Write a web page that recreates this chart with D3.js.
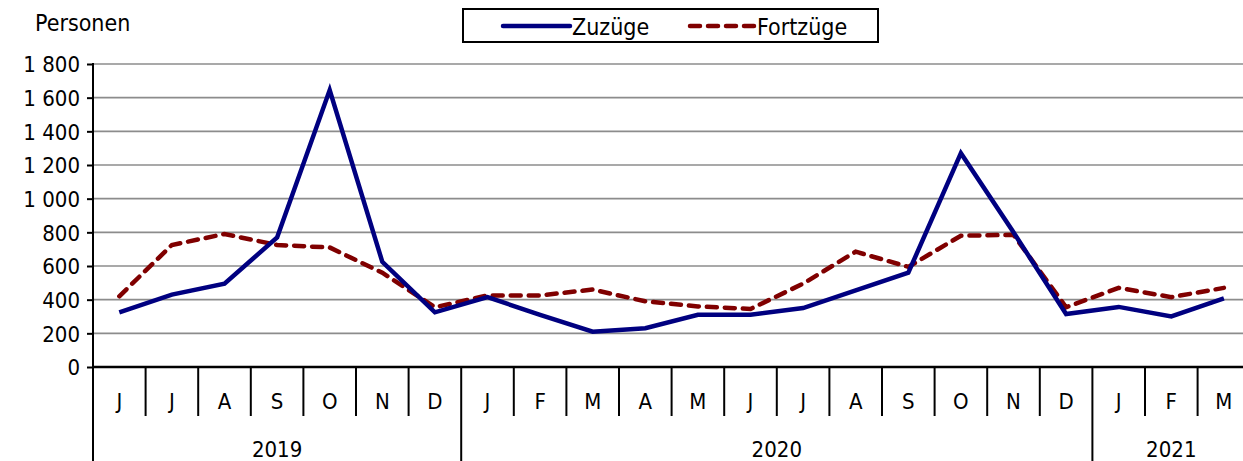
<!DOCTYPE html>
<html>
<head>
<meta charset="utf-8">
<script src="https://cdn.jsdelivr.net/npm/d3@7"></script>
<style>
  html, body { margin: 0; padding: 0; background: #fff; }
  svg { display: block; font-family: "DejaVu Sans Condensed", "Noto Sans", sans-serif; }
</style>
</head>
<body>
<div id="chart"></div>
<script>
// Monatswerte Juni 2019 bis März 2021
const months = ['J','J','A','S','O','N','D','J','F','M','A','M','J','J','A','S','O','N','D','J','F','M'];
const years = ['2019', '2020', '2021'];
const monthsPerYear = [7, 12, 3];
const zuzuege = [325, 430, 495, 770, 1645, 625, 325, 415, 310, 210, 230, 310, 310, 350, 455, 560, 1270, 800, 315, 357, 300, 407];
const fortzuege = [420, 725, 790, 725, 710, 560, 355, 425, 425, 460, 390, 360, 345, 495, 685, 595, 780, 785, 355, 470, 415, 470];
const yTicks = [0, 200, 400, 600, 800, 1000, 1200, 1400, 1600, 1800];

const W = 1243, H = 461;
const plotLeft = 93, step = 52.6, plotTop = 64, zero = 367;

const svg = d3.select('#chart').append('svg').attr('width', W).attr('height', H);

const x = d3.scaleBand().domain(d3.range(months.length)).range([plotLeft, plotLeft + step * months.length]).padding(0);
const y = d3.scaleLinear().domain([0, 1800]).range([zero, plotTop]);
const fmt = d3.formatLocale({ decimal: ',', thousands: ' ', grouping: [3], currency: ['', ''] }).format(',');

// gridlines
svg.append('g').selectAll('line').data(yTicks.filter(d => d > 0)).join('line')
  .attr('x1', plotLeft).attr('x2', W)
  .attr('y1', d => y(d)).attr('y2', d => y(d))
  .attr('stroke', '#8c8c8c').attr('stroke-width', 1.6);

// y axis
const yAxis = svg.append('g').attr('transform', `translate(${plotLeft},0)`)
  .call(d3.axisLeft(y).tickValues(yTicks).tickSize(6).tickPadding(7).tickFormat(fmt));
yAxis.select('.domain').remove();
yAxis.selectAll('.tick line').attr('stroke', '#000').attr('stroke-width', 2);
yAxis.selectAll('.tick text').attr('font-size', 22).attr('fill', '#000').attr('dy', '0.36em');
yAxis.attr('font-family', null).attr('font-size', null);
svg.append('line').attr('x1', plotLeft).attr('x2', plotLeft).attr('y1', plotTop - 1).attr('y2', H)
  .attr('stroke', '#000').attr('stroke-width', 2);

// x axis baseline
svg.append('line').attr('x1', plotLeft).attr('x2', W).attr('y1', zero).attr('y2', zero)
  .attr('stroke', '#000').attr('stroke-width', 2.5);

// month separators
const starts = d3.cumsum([0, ...monthsPerYear]);
svg.append('g').selectAll('line').data(d3.range(1, months.length + 1)).join('line')
  .attr('x1', i => x(0) + i * x.bandwidth()).attr('x2', i => x(0) + i * x.bandwidth())
  .attr('y1', zero).attr('y2', i => starts.includes(i) ? H : 416)
  .attr('stroke', '#000').attr('stroke-width', 2);

// month labels
svg.append('g').selectAll('text').data(months).join('text')
  .attr('x', (d, i) => x(i) + x.bandwidth() / 2).attr('y', 409)
  .attr('text-anchor', 'middle').attr('font-size', 22).text(d => d);

// year labels
svg.append('g').selectAll('text').data(years).join('text')
  .attr('x', (d, i) => x(starts[i]) + (monthsPerYear[i] * x.bandwidth()) / 2).attr('y', 457)
  .attr('text-anchor', 'middle').attr('font-size', 22).text(d => d);

// lines
const line = d3.line().x((d, i) => x(i) + x.bandwidth() / 2).y(d => y(d));
svg.append('path').datum(fortzuege).attr('d', line).attr('fill', 'none')
  .attr('stroke', '#800000').attr('stroke-width', 4.5).attr('stroke-dasharray', '10,8').attr('stroke-linecap', 'round');
svg.append('path').datum(zuzuege).attr('d', line).attr('fill', 'none')
  .attr('stroke', '#000080').attr('stroke-width', 4.5);

// y label
svg.append('text').attr('x', 35).attr('y', 31).attr('font-size', 23).text('Personen');

// legend
const lg = svg.append('g');
lg.append('rect').attr('x', 463).attr('y', 9).attr('width', 415).attr('height', 33)
  .attr('fill', '#fff').attr('stroke', '#000').attr('stroke-width', 2);
lg.append('line').attr('x1', 503).attr('x2', 570).attr('y1', 26).attr('y2', 26)
  .attr('stroke', '#000080').attr('stroke-width', 4.5).attr('stroke-linecap', 'round');
lg.append('text').attr('x', 572).attr('y', 35).attr('font-size', 23).text('Zuzüge');
lg.append('line').attr('x1', 690).attr('x2', 755).attr('y1', 26).attr('y2', 26)
  .attr('stroke', '#800000').attr('stroke-width', 4.5).attr('stroke-dasharray', '10,8').attr('stroke-linecap', 'round');
lg.append('text').attr('x', 757).attr('y', 35).attr('font-size', 23).text('Fortzüge');
</script>
</body>
</html>
